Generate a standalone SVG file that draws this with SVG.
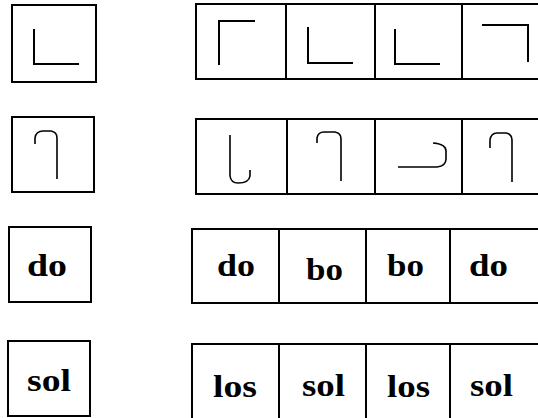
<svg xmlns="http://www.w3.org/2000/svg" width="538" height="418" viewBox="0 0 538 418">
<style>
.box{fill:#fff;stroke:#000;stroke-width:2}
.g{fill:none;stroke:#000;stroke-width:2;stroke-linecap:butt;stroke-linejoin:miter}
.h{fill:none;stroke:#000;stroke-width:1.6;stroke-linejoin:round}
.t{font-family:'Liberation Serif','Times New Roman',serif;font-weight:bold;font-size:31px;fill:#000}
</style>
<rect width="538" height="418" fill="#fff"/>
<g id="row1-left">
<rect class="box" x="12" y="5" width="84" height="77"/>
<path class="g" d="M34,29 V64 H79"/>
</g>
<g id="row1-right">
<rect class="box" x="196" y="4" width="360" height="75"/>
<path class="g" d="M286,4 V79 M375,4 V79 M462,4 V79"/>
<path class="g" d="M219,65 V21 H255"/>
<path class="g" d="M308,27 V63 H353"/>
<path class="g" d="M395,29 V64 H440"/>
<path class="g" d="M482,25 H528 V62"/>
</g>
<g id="row2-left">
<rect class="box" x="12" y="117" width="82" height="75"/>
<path class="h" d="M35,144 V138 Q36,131 43,131 H51 Q57,132 57,138 V179"/>
</g>
<g id="row2-right">
<rect class="box" x="196" y="119" width="360" height="75"/>
<path class="g" d="M287,119 V194 M375,119 V194 M462,119 V194"/>
<path class="h" d="M230,135 V176 Q231,183 238,183 Q249,183 250,176 V170"/>
<path class="h" d="M317,143 V138 Q318,132 324,132 H335 Q341,133 341,139 V181"/>
<path class="h" d="M398,167 H437 Q446,166 446,159 V151 Q446,144 433,143"/>
<path class="h" d="M490,148 V140 Q491,133 497,133 H506 Q512,134 512,140 V182"/>
</g>
<g id="row3-left">
<rect class="box" x="9" y="227" width="82" height="75"/>
<text class="t" x="27" y="276" textLength="40" lengthAdjust="spacingAndGlyphs">do</text>
</g>
<g id="row3-right">
<rect class="box" x="192" y="229" width="360" height="74"/>
<path class="g" d="M279,229 V303 M366,229 V303 M450,229 V303"/>
<text class="t" x="217" y="276" textLength="38" lengthAdjust="spacingAndGlyphs">do</text>
<text class="t" x="306" y="280" textLength="37" lengthAdjust="spacingAndGlyphs">bo</text>
<text class="t" x="387" y="276" textLength="37" lengthAdjust="spacingAndGlyphs">bo</text>
<text class="t" x="469" y="276" textLength="39" lengthAdjust="spacingAndGlyphs">do</text>
</g>
<g id="row4-left">
<rect class="box" x="8" y="341" width="82" height="75"/>
<text class="t" x="27" y="391" textLength="44" lengthAdjust="spacingAndGlyphs">sol</text>
</g>
<g id="row4-right">
<rect class="box" x="192" y="344" width="360" height="90"/>
<path class="g" d="M279,344 V434 M366,344 V434 M450,344 V434"/>
<text class="t" x="213" y="397" textLength="44" lengthAdjust="spacingAndGlyphs">los</text>
<text class="t" x="302" y="396" textLength="43" lengthAdjust="spacingAndGlyphs">sol</text>
<text class="t" x="387" y="397" textLength="43" lengthAdjust="spacingAndGlyphs">los</text>
<text class="t" x="470" y="396" textLength="43" lengthAdjust="spacingAndGlyphs">sol</text>
</g>
</svg>
